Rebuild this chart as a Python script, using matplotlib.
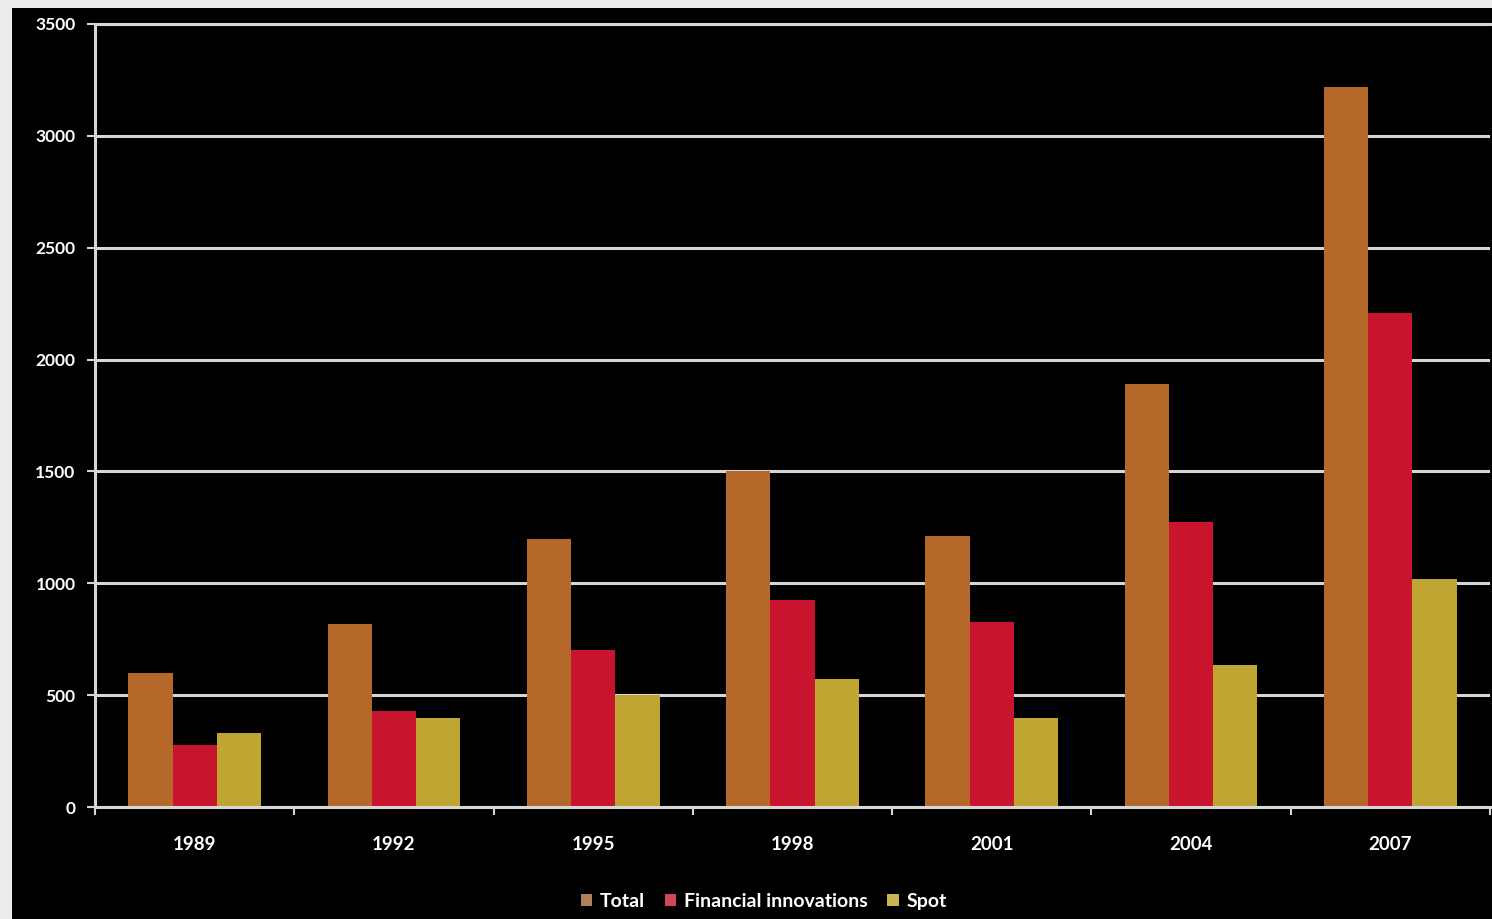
import matplotlib.pyplot as plt
import numpy as np
from matplotlib.patches import Rectangle, Patch

years = ['1989', '1992', '1995', '1998', '2001', '2004', '2007']
total = [600, 820, 1200, 1500, 1210, 1890, 3220]
financial = [275, 430, 700, 925, 825, 1275, 2210]
spot = [330, 400, 500, 570, 400, 635, 1020]

series_names = ['Total', 'Financial innovations', 'Spot']
bar_colors = ['#b4682a', '#c8142c', '#bfa632']
legend_colors = ['#b0805a', '#d04858', '#c8b450']

GRID = '#d6d6d6'

fig = plt.figure(figsize=(14.92, 9.19), dpi=100, facecolor='#ececec')
# black panel leaving a thin gray margin on the left and top
fig.patches.append(Rectangle((12 / 1492, 0), 1, 1 - 8 / 919, transform=fig.transFigure,
                             facecolor='black', edgecolor='none', zorder=0))

ax = fig.add_axes([95 / 1492, 1 - 807 / 919, (1490 - 95) / 1492, (807 - 24) / 919])
ax.set_zorder(2)
ax.set_facecolor('black')

x = np.arange(len(years))
w = 0.222
for i, (vals, c) in enumerate(zip([total, financial, spot], bar_colors)):
    ax.bar(x + (i - 1) * w, vals, width=w, color=c, zorder=3)

ax.set_xlim(-0.5, len(years) - 0.5)
ax.set_ylim(0, 3500)
ax.set_yticks(np.arange(0, 3501, 500))
ax.yaxis.grid(True, color=GRID, linewidth=2.2, zorder=1)
ax.set_axisbelow(True)

ax.spines['right'].set_visible(False)
for s in ['left', 'bottom', 'top']:
    ax.spines[s].set_color(GRID)
    ax.spines[s].set_linewidth(2.2)
    ax.spines[s].set_zorder(4)

ax.set_xticks(x)
ax.set_xticklabels(years)
ax.set_xticks(np.arange(-0.5, len(years)), minor=True)
ax.tick_params(axis='x', which='major', length=0, pad=21, colors='white', labelsize=13.5)
ax.tick_params(axis='x', which='minor', length=6, width=1.5, color=GRID, direction='out')
ax.tick_params(axis='y', length=6, width=1.5, color=GRID, pad=8, labelcolor='white', labelsize=12.5)
for lbl in ax.get_xticklabels() + ax.get_yticklabels():
    lbl.set_fontweight('bold')
    lbl.set_family('Lato')

handles = [Patch(facecolor=c, edgecolor='none') for c in legend_colors]
leg = fig.legend(handles, series_names, loc='center', bbox_to_anchor=(0.512, 0.019),
                 ncol=3, frameon=False, handlelength=0.6, handleheight=0.6,
                 handletextpad=0.4, columnspacing=1.0,
                 prop={'family': 'Lato', 'weight': 'bold', 'size': 14})
for t in leg.get_texts():
    t.set_color('white')

fig.savefig('out.png', dpi=100, facecolor=fig.get_facecolor())
